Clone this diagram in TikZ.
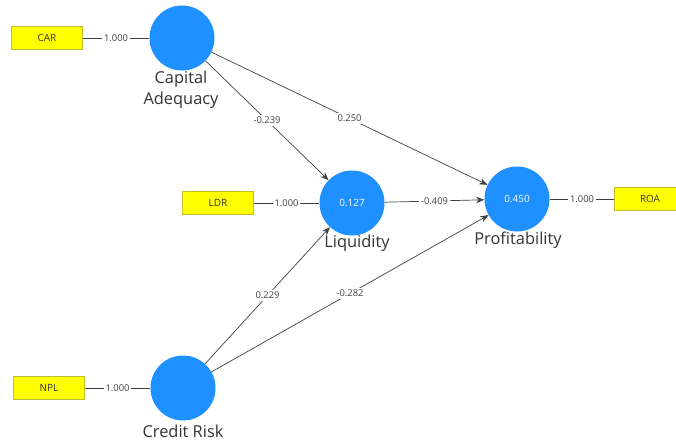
\documentclass[tikz,border=0pt]{standalone}
\usepackage{fontspec}
\setmainfont{Open Sans}
\usetikzlibrary{arrows.meta}
\definecolor{lvBlue}{RGB}{30,144,255}
\definecolor{mvYellow}{RGB}{255,255,0}
\definecolor{mvBorder}{RGB}{190,190,40}
\definecolor{pathGray}{RGB}{64,64,64}
\tikzset{
    >={Stealth[length=7pt,width=5.5pt]},
    every node/.append style={align=center},
    latent/.style={circle,fill=lvBlue,minimum size=1.95cm,inner sep=0pt,text=white,font=\fontsize{8.5}{10}\selectfont},
    manifest/.style={rectangle,fill=mvYellow,draw=mvBorder,minimum width=2.13cm,minimum height=0.69cm,inner sep=0pt,text=black!80,font=\fontsize{8.5}{10}\selectfont},
    lvname/.style={text=black!80,font=\fontsize{14}{18}\selectfont},
    coef/.style={fill=white,inner sep=1.5pt,text=black!75,font=\fontsize{8}{10}\selectfont},
    link/.style={draw=pathGray,line width=0.6pt},
}
\begin{document}
\begin{tikzpicture}[x=0.03cm,y=-0.03cm]
        \useasboundingbox (0,0) rectangle (676,443);

        \node[latent] (ca)   at (182, 38)  {};
        \node[latent] (liq)  at (352, 203) {0.127};
        \node[latent] (prof) at (517, 199) {0.450};
        \node[latent] (cr)   at (183, 388) {};

        \node[lvname] (caname)   at (181, 90)  {Capital\\Adequacy};
        \node[lvname] (liqname)  at (357, 243) {Liquidity};
        \node[lvname] (profname) at (518, 240) {Profitability};
        \node[lvname] (crname)   at (183, 431) {Credit Risk};

        \node[manifest] (car) at (47, 38)   {CAR};
        \node[manifest] (ldr) at (218, 203) {LDR};
        \node[manifest] (roa) at (650, 199) {ROA};
        \node[manifest] (npl) at (49, 388)  {NPL};

        \draw[link] (car) -- node[coef] {1.000} (ca);
        \draw[link] (ldr) -- node[coef] {1.000} (liq);
        \draw[link] (prof) -- node[coef] {1.000} (roa);
        \draw[link] (npl) -- node[coef] {1.000} (cr);

        \draw[link,->] (ca) -- node[coef] {-0.239} (liq);
        \draw[link,->] (ca) -- node[coef] {0.250} (prof);
        \draw[link,->] (liq) -- node[coef] {-0.409} (prof);
        \draw[link,->] (cr) -- node[coef] {0.229} (liq);
        \draw[link,->] (cr) -- node[coef] {-0.282} (prof);
\end{tikzpicture}
\end{document}
